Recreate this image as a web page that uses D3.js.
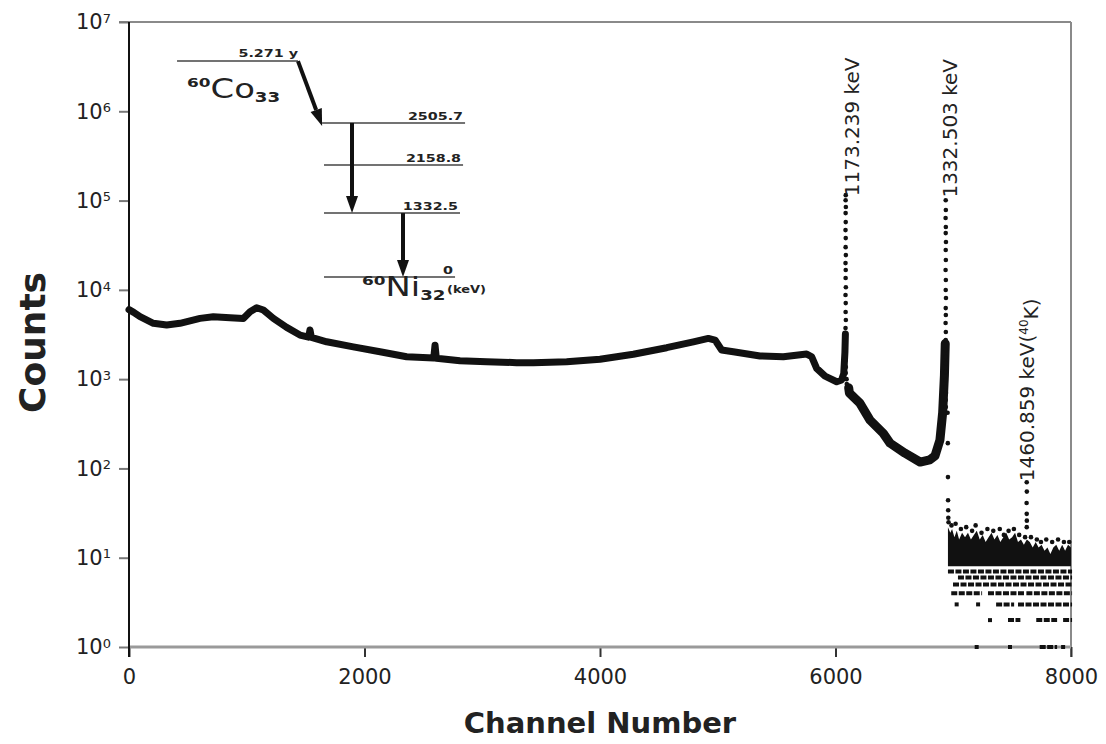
<!DOCTYPE html>
<html>
<head>
<meta charset="utf-8">
<script src="https://cdn.jsdelivr.net/npm/d3@7"></script>
<style>
body { margin: 0; background: #fff; }
svg text { font-family: "DejaVu Sans", sans-serif; fill: #222; }
</style>
</head>
<body>
<svg id="chart" width="1106" height="744"></svg>
<script>
"use strict";

// axis ticks
const X_TICKS = [0, 2000, 4000, 6000, 8000];
const Y_EXPONENTS = [0, 1, 2, 3, 4, 5, 6, 7];

// continuous part of the spectrum, [channel, counts]
const backgroundLow = [[0, 6000], [40, 5600], [94, 5000], [207, 4220], [320, 4040], [433, 4220],
	[603, 4790], [716, 5000], [858, 4880], [971, 4790], [1028, 5690], [1084, 6310], [1141, 5940],
	[1226, 4790], [1339, 3800], [1452, 3120], [1525, 2950], [1537, 3550], [1549, 2940], [1679, 2620],
	[1905, 2300], [2132, 2030], [2358, 1780], [2588, 1720], [2599, 2400], [2610, 1710], [2811, 1610],
	[3037, 1570], [3292, 1530], [3434, 1530], [3717, 1570], [4000, 1670], [4283, 1900], [4566, 2250],
	[4793, 2620], [4920, 2860], [4977, 2740], [5033, 2120], [5132, 2030], [5359, 1820], [5557, 1780],
	[5755, 1910], [5798, 1780], [5840, 1320], [5911, 1080], [6010, 935], [6052, 980], [6070, 1150],
	[6080, 2000], [6084, 3200]];
const backgroundHigh = [[6112, 800], [6118, 700], [6208, 536], [6293, 348], [6406, 247], [6463, 192],
	[6590, 148], [6718, 118], [6800, 125], [6845, 138], [6887, 208], [6910, 420], [6925, 1100], [6932, 2500]];

// photopeaks, drawn as separate dots
const peak1173 = [[6087, 115000], [6086, 101000], [6088, 84600], [6086, 72400], [6087, 57400],
	[6085, 46700], [6087, 38000], [6086, 30100], [6088, 24500], [6085, 19950], [6087, 16700],
	[6086, 13600], [6088, 10700], [6085, 8750], [6087, 7110], [6086, 5640], [6088, 4590], [6085, 3730],
	[6086, 2960], [6087, 2540], [6085, 2120], [6086, 1640], [6088, 1370], [6087, 1170], [6094, 1000],
	[6096, 880], [6099, 800]];
const peak1332 = [[6936, 101000], [6937, 78300], [6935, 63700], [6937, 50500], [6936, 43200],
	[6938, 34300], [6936, 27900], [6937, 21600], [6935, 16700], [6937, 12900], [6936, 9950],
	[6938, 8100], [6936, 6250], [6937, 5220], [6935, 4250], [6937, 3370], [6936, 2740], [6938, 2120],
	[6936, 1770], [6937, 1510], [6935, 1200], [6937, 977], [6936, 816], [6938, 698], [6936, 583],
	[6937, 488], [6952, 420], [6954, 192], [6955, 80], [6956, 44], [6957, 34], [6958, 28]];
const peak1460 = [[7624, 70], [7625, 55], [7623, 41], [7624, 31], [7625, 26], [7624, 22]];

// statistics-limited tail above channel ~6950
const NOISE_FLOOR = 8;
const noiseTop = [[6955, 22], [6975, 19], [6990, 21], [7010, 17], [7030, 20], [7050, 16], [7075, 19],
	[7100, 17], [7125, 19], [7150, 16], [7175, 18], [7200, 20], [7225, 16], [7250, 18], [7275, 15],
	[7300, 17], [7325, 19], [7350, 16], [7375, 18], [7400, 15], [7425, 17], [7450, 19], [7475, 16],
	[7500, 17], [7525, 19], [7550, 15], [7575, 16], [7600, 14], [7625, 16], [7650, 15], [7675, 13],
	[7700, 15], [7725, 13], [7750, 14], [7775, 12], [7800, 13], [7825, 11], [7850, 13], [7875, 14],
	[7900, 12], [7925, 14], [7950, 12], [7975, 14], [8000, 13]];
const noiseSpeckles = [[6960, 25], [6985, 23], [7020, 24], [7065, 21], [7110, 22], [7160, 20],
	[7190, 23], [7240, 19], [7290, 21], [7340, 20], [7395, 21], [7430, 18], [7470, 20], [7515, 21],
	[7560, 18], [7610, 17], [7660, 17], [7710, 16], [7745, 15], [7790, 16], [7840, 15], [7890, 16],
	[7940, 15], [7985, 15]];
const rowCounts = [7, 6, 5, 4, 3, 2, 1];
const rowRuns = [
	[[6972, 7992]],
	[[7057, 7992]],
	[[7015, 7992]],
	[[7000, 7228], [7312, 7596], [7638, 7992]],
	[[7029, 7029], [7211, 7211], [7381, 7500], [7567, 7992]],
	[[7312, 7312], [7482, 7553], [7722, 7865], [7950, 7992]],
	[[7199, 7199], [7482, 7482], [7751, 7865], [7933, 7933]]
];

// peak labels and where they start (channel, counts)
const peakLabels = ['1173.239 keV', '1332.503 keV', '1460.859 keV('];
const peakLabelAt = [[6140, 112000], [6972, 108000], [7626, 72]];

// 60Co decay scheme inset, placed in chart units
const coLevel = [408, 1435, 3.65e6];
const niLevels = ['2505.7', '2158.8', '1332.5', '0'];
const niLevelCounts = [7.4e5, 2.5e5, 7.24e4, 1.39e4];
const niLevelChannels = [[1640, 2854], [1656, 2837], [1656, 2811], [1656, 2769]];
const gammaChannels = [1894, 2327];

var svg = d3.select('#chart');
var W = 1106, H = 744;
var margin = { top: 22, right: 35, bottom: 97, left: 129 };

var x = d3.scaleLinear().domain([0, 8000]).range([margin.left, W - margin.right]);
var y = d3.scaleLog().domain([1, 1e7]).range([H - margin.bottom, margin.top]);

// frame (top and right), grey like the original
svg.append('line')
	.attr('x1', margin.left - 10).attr('x2', x(8000))
	.attr('y1', y(1e7)).attr('y2', y(1e7))
	.attr('stroke', '#8a8a8a').attr('stroke-width', 2);
svg.append('line')
	.attr('x1', x(8000)).attr('x2', x(8000))
	.attr('y1', y(1e7)).attr('y2', y(1) + 10)
	.attr('stroke', '#8a8a8a').attr('stroke-width', 2);

// x axis
var xAxis = d3.axisBottom(x).tickValues(X_TICKS).tickSize(10).tickPadding(12)
	.tickFormat(d3.format('d'));
var xAxisG = svg.append('g')
	.attr('transform', 'translate(0,' + y(1) + ')')
	.call(xAxis);
xAxisG.select('.domain').remove();
xAxisG.selectAll('.tick line').attr('stroke', '#333').attr('stroke-width', 2);
xAxisG.selectAll('.tick text')
	.attr('font-size', 21)
	.style('font-family', '"DejaVu Sans", sans-serif')
	.attr('fill', '#2a2a2a');
svg.append('line')
	.attr('x1', x(0)).attr('x2', x(8000))
	.attr('y1', y(1)).attr('y2', y(1))
	.attr('stroke', '#9a9a9a').attr('stroke-width', 3);

// y axis with 10^n labels
var yAxis = d3.axisLeft(y)
	.tickValues(Y_EXPONENTS.map(function(e) { return Math.pow(10, e); }))
	.tickSize(10).tickPadding(8)
	.tickFormat(function() { return '10'; });
var yAxisG = svg.append('g')
	.attr('transform', 'translate(' + margin.left + ',0)')
	.call(yAxis);
yAxisG.select('.domain').remove();
yAxisG.selectAll('.tick line').attr('stroke', '#777').attr('stroke-width', 2);
yAxisG.selectAll('.tick text')
	.attr('font-size', 21)
	.style('font-family', '"DejaVu Sans", sans-serif')
	.attr('fill', '#2a2a2a')
	.append('tspan')
	.attr('dy', '-0.5em')
	.attr('font-size', 13)
	.text(function(d) { return Math.round(Math.log10(d)); });

// axis titles
svg.append('text')
	.attr('x', (x(0) + x(8000)) / 2).attr('y', 733)
	.attr('text-anchor', 'middle')
	.attr('font-size', 29).attr('font-weight', 'bold')
	.text('Channel Number');
svg.append('text')
	.attr('transform', 'translate(45,' + ((y(1) + y(1e7)) / 2 + 8) + ') rotate(-90)')
	.attr('text-anchor', 'middle')
	.attr('font-size', 36).attr('font-weight', 'bold')
	.text('Counts');

// spectrum
var plot = svg.append('g').attr('class', 'spectrum');
var line = d3.line().x(function(d) { return x(d[0]); }).y(function(d) { return y(d[1]); });

plot.append('path').datum(backgroundLow)
	.attr('d', line).attr('fill', 'none')
	.attr('stroke', '#111').attr('stroke-width', 7)
	.attr('stroke-linejoin', 'round').attr('stroke-linecap', 'round');
plot.append('path').datum(backgroundHigh)
	.attr('d', line).attr('fill', 'none')
	.attr('stroke', '#111').attr('stroke-width', 9)
	.attr('stroke-linejoin', 'round').attr('stroke-linecap', 'round');

var noiseArea = d3.area()
	.x(function(d) { return x(d[0]); })
	.y0(y(NOISE_FLOOR))
	.y1(function(d) { return y(d[1]); });
plot.append('path').datum(noiseTop)
	.attr('d', noiseArea).attr('fill', '#111');

rowRuns.forEach(function(runs, i) {
	plot.selectAll(null).data(runs).join('line')
		.attr('x1', function(d) { return x(d[0]) - 2; })
		.attr('x2', function(d) { return x(d[1]) + 2; })
		.attr('y1', y(rowCounts[i])).attr('y2', y(rowCounts[i]))
		.attr('stroke', '#111').attr('stroke-width', 4)
		.attr('stroke-dasharray', '6,1.5');
});

var dots = [].concat(noiseSpeckles, peak1173, peak1332, peak1460);
plot.selectAll('circle').data(dots).join('circle')
	.attr('cx', function(d) { return x(d[0]); })
	.attr('cy', function(d) { return y(d[1]); })
	.attr('r', 2.3)
	.attr('fill', '#111');

// peak labels
var peakText = plot.selectAll('.peak-label').data(peakLabels).join('text')
	.attr('class', 'peak-label')
	.attr('transform', function(d, i) {
		return 'translate(' + x(peakLabelAt[i][0]) + ',' + y(peakLabelAt[i][1]) + ') rotate(-90)';
	})
	.attr('dy', '0.36em')
	.attr('font-size', 20)
	.text(function(d) { return d; });
var kText = d3.select(peakText.nodes()[2]);
kText.append('tspan').attr('dy', '-0.5em').attr('font-size', 12).text('40');
kText.append('tspan').attr('dy', '0.5em').text('K)');

// decay scheme inset
var scheme = svg.append('g').attr('class', 'decay-scheme');

function stretchedText(g, cx, cy, txt, anchor, size, bold) {
	return g.append('text')
		.attr('transform', 'translate(' + cx + ',' + cy + ') scale(1.3,1)')
		.attr('text-anchor', anchor)
		.attr('font-size', size)
		.attr('font-weight', bold ? 'bold' : 'normal')
		.text(txt);
}

function arrow(g, x1, y1, x2, y2) {
	var dx = x2 - x1, dy = y2 - y1;
	var len = Math.sqrt(dx * dx + dy * dy);
	var ux = dx / len, uy = dy / len;
	var headLen = 17, headHalf = 6;
	var bx = x2 - ux * headLen, by = y2 - uy * headLen;
	g.append('line')
		.attr('x1', x1).attr('y1', y1).attr('x2', bx).attr('y2', by)
		.attr('stroke', '#111').attr('stroke-width', 4);
	g.append('path')
		.attr('d', 'M' + x2 + ',' + y2 +
			'L' + (bx - uy * headHalf) + ',' + (by + ux * headHalf) +
			'L' + (bx + uy * headHalf) + ',' + (by - ux * headHalf) + 'Z')
		.attr('fill', '#111');
}

// 60Co ground state
scheme.append('line')
	.attr('x1', x(coLevel[0])).attr('x2', x(coLevel[1]))
	.attr('y1', y(coLevel[2])).attr('y2', y(coLevel[2]))
	.attr('stroke', '#444').attr('stroke-width', 1.5);
stretchedText(scheme, x(coLevel[1]), y(coLevel[2]) - 4, '5.271 y', 'end', 11, true);
var coLabel = scheme.append('text')
	.attr('transform', 'translate(' + (x(coLevel[0]) + 10) + ',' + (y(coLevel[2]) + 37) + ') scale(1.3,1)');
coLabel.append('tspan').attr('font-size', 13).attr('font-weight', 'bold').attr('dy', -11).text('60');
coLabel.append('tspan').attr('font-size', 26).attr('dy', 11).text('Co');
coLabel.append('tspan').attr('font-size', 14).attr('font-weight', 'bold').attr('dy', 4).text('33');

// 60Ni levels
niLevels.forEach(function(lbl, i) {
	var ly = y(niLevelCounts[i]);
	scheme.append('line')
		.attr('x1', x(niLevelChannels[i][0])).attr('x2', x(niLevelChannels[i][1]))
		.attr('y1', ly).attr('y2', ly)
		.attr('stroke', '#444').attr('stroke-width', 1.5);
	stretchedText(scheme, x(niLevelChannels[i][1]) - 2, ly - 3, lbl, 'end', 11, true);
});
var groundY = y(niLevelCounts[3]);
stretchedText(scheme, x(niLevelChannels[3][1]) - 8, groundY + 16, '(keV)', 'start', 10, true);
var niLabel = scheme.append('text')
	.attr('transform', 'translate(' + (x(niLevelChannels[3][0]) + 38) + ',' + (groundY + 19) + ') scale(1.3,1)');
niLabel.append('tspan').attr('font-size', 13).attr('font-weight', 'bold').attr('dy', -11).text('60');
niLabel.append('tspan').attr('font-size', 26).attr('dy', 11).text('Ni');
niLabel.append('tspan').attr('font-size', 14).attr('font-weight', 'bold').attr('dy', 4).text('32');

// beta branch and the two gamma transitions
arrow(scheme, x(coLevel[1]), y(coLevel[2]), x(niLevelChannels[0][0]), y(niLevelCounts[0]) + 3);
arrow(scheme, x(gammaChannels[0]), y(niLevelCounts[0]), x(gammaChannels[0]), y(niLevelCounts[2]));
arrow(scheme, x(gammaChannels[1]), y(niLevelCounts[2]), x(gammaChannels[1]), y(niLevelCounts[3]));

// y axis line drawn last so it sits over the spectrum start
svg.append('line')
	.attr('x1', x(0)).attr('x2', x(0))
	.attr('y1', y(1e7)).attr('y2', y(1) + 10)
	.attr('stroke', '#111').attr('stroke-width', 2);
</script>
</body>
</html>
